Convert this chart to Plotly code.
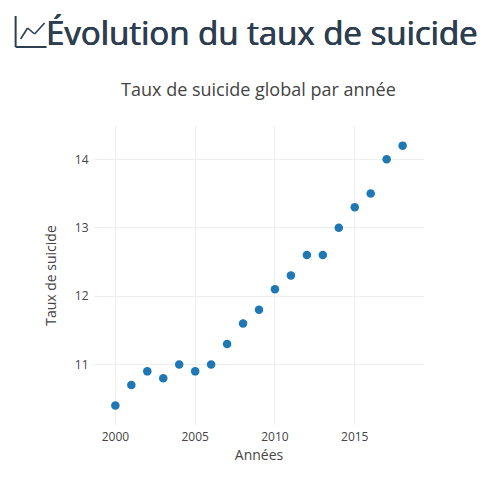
import plotly.graph_objects as go

annees = [2000, 2001, 2002, 2003, 2004, 2005, 2006, 2007, 2008, 2009,
          2010, 2011, 2012, 2013, 2014, 2015, 2016, 2017, 2018]
taux = [10.4, 10.7, 10.9, 10.8, 11.0, 10.9, 11.0, 11.3, 11.6, 11.8,
        12.1, 12.3, 12.6, 12.6, 13.0, 13.3, 13.5, 14.0, 14.2]
x_ticks = [2000, 2005, 2010, 2015]
y_ticks = [11, 12, 13, 14]

W, H = 497, 477
FONT = "Open Sans"
DARK = "#2c3e50"


def px(x, y):
    # pixels de la page -> coordonnees paper
    return (x - M["l"]) / (W - M["l"] - M["r"]), (H - M["b"] - y) / (H - M["t"] - M["b"])


M = dict(l=93.5, r=73, t=126, b=52)

fig = go.Figure()
fig.add_trace(go.Scatter(x=annees, y=taux, mode="markers",
                         marker=dict(size=8.5, color="#1f77b4"),
                         hovertemplate="%{x} : %{y}<extra></extra>"))

# icone du titre
shapes = []
for a, b in [((15, 16), (15, 47)), ((15, 47), (46, 47)), ((20, 39), (27, 28)),
             ((27, 28), (34, 34)), ((34, 34), (44, 23))]:
    x0, y0 = px(*a)
    x1, y1 = px(*b)
    shapes.append(dict(type="line", xref="paper", yref="paper", x0=x0, y0=y0, x1=x1, y1=y1,
                       line=dict(color=DARK, width=2 if a[0] == 15 else 1.6)))

tx, ty = px(43.5, 32)
fig.update_layout(
    width=W, height=H, margin=M, showlegend=False,
    paper_bgcolor="white", plot_bgcolor="white",
    font=dict(family=FONT, size=12, color="#444"),
    title=dict(text="Taux de suicide global par année", x=0.52, xanchor="center",
               y=0.811, yanchor="middle", font=dict(size=18, color="#444")),
    xaxis=dict(title=dict(text="Années", font=dict(size=14), standoff=6), tickvals=x_ticks,
               range=[1998.66, 2019.34], gridcolor="#eee", zeroline=False, showline=False,
               ticks="outside", ticklen=0.1, tickcolor="white"),
    yaxis=dict(title=dict(text="Taux de suicide", font=dict(size=14), standoff=14), tickvals=y_ticks,
               ticks="outside", ticklen=2, tickcolor="white",
               range=[10.116, 14.487], gridcolor="#eee", zeroline=False, showline=False),
    shapes=shapes,
    # pas de graisse semi-bold installee : regular + leger contour
    annotations=[dict(text="Évolution du taux de suicide", xref="paper", yref="paper",
                      x=tx, y=ty, xanchor="left", yanchor="middle", showarrow=False,
                      font=dict(family=FONT, size=33, color=DARK,
                                shadow="0.5px 0 0 #2c3e50, -0.3px 0 0 #2c3e50"))],
)
fig.write_html("out.html", config=dict(displayModeBar=False),
               post_script="document.body.style.margin = '0';")
